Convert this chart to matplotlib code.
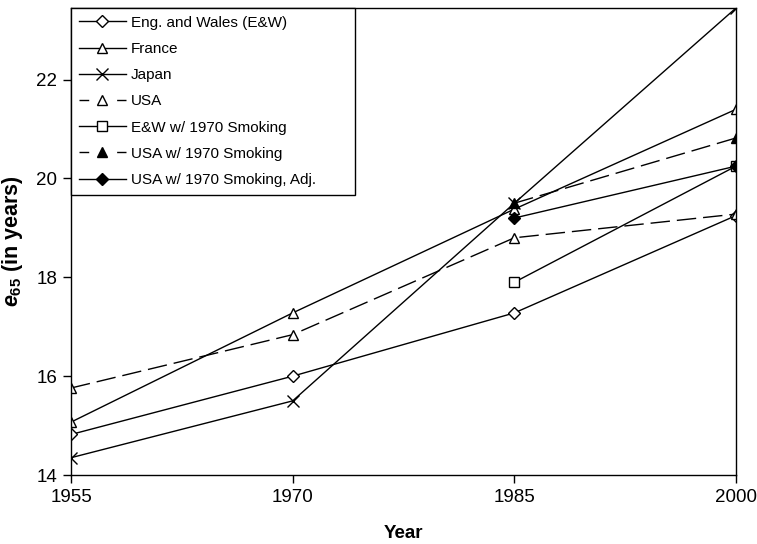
import matplotlib
matplotlib.use("Agg")
import matplotlib.pyplot as plt

plt.rcParams['font.family'] = ['Liberation Sans', 'DejaVu Sans']
plt.rcParams['mathtext.fontset'] = 'custom'
plt.rcParams['mathtext.it'] = 'Liberation Sans:bold:italic'
plt.rcParams['mathtext.bf'] = 'Liberation Sans:bold'
plt.rcParams['mathtext.rm'] = 'Liberation Sans'

years = [1955, 1970, 1985, 2000]
ew = [14.82, 16.0, 17.28, 19.25]
france = [15.07, 17.28, 19.38, 21.4]
japan = [14.35, 15.5, 19.5, 23.45]
usa = [15.76, 16.84, 18.8, 19.28]
ew_smoke_years = [1985, 2000]
ew_smoke = [17.9, 20.25]
usa_smoke_years = [1985, 2000]
usa_smoke = [19.5, 20.82]
usa_smoke_adj_years = [1985, 2000]
usa_smoke_adj = [19.2, 20.25]

fig = plt.figure(figsize=(7.57, 5.44), dpi=100)
ax = fig.add_axes([71/757, 1-475/544, (736-71)/757, (475-8)/544])

dash = (0, (14, 5))
base = dict(color='black', linewidth=1.0, markeredgewidth=1.0)
ax.plot(years, ew, marker='D', markerfacecolor='white', markersize=6, linestyle='-',
        label='Eng. and Wales (E&W)', **base)
ax.plot(years, france, marker='^', markerfacecolor='white', markersize=7, linestyle='-',
        label='France', **base)
ax.plot(years, japan, marker='x', markersize=9, linestyle='-', label='Japan', **base)
ax.plot(years, usa, marker='^', markerfacecolor='white', markersize=7, linestyle=dash,
        label='USA', **base)
ax.plot(ew_smoke_years, ew_smoke, marker='s', markerfacecolor='white', markersize=7,
        linestyle='-', label='E&W w/ 1970 Smoking', **base)
ax.plot(usa_smoke_years, usa_smoke, marker='^', markerfacecolor='black', markersize=7,
        linestyle=dash, label='USA w/ 1970 Smoking', **base)
ax.plot(usa_smoke_adj_years, usa_smoke_adj, marker='D', markerfacecolor='black', markersize=6,
        linestyle='-', label='USA w/ 1970 Smoking, Adj.', **base)

ax.set_xlim(1955, 2000)
ax.set_ylim(14, 23.45)
ax.set_xticks([1955, 1970, 1985, 2000])
ax.set_yticks([14, 16, 18, 20, 22])
ax.tick_params(axis='both', labelsize=13.5, direction='out', length=6, width=1.0, pad=4,
               colors='black')
for s in ax.spines.values():
    s.set_linewidth(1.0)
    s.set_color('black')

ax.set_xlabel('Year', fontsize=13.5, fontweight='bold', labelpad=14)
ax.set_ylabel(r'$\mathit{e}_{\mathbf{65}}$' + ' (in years)', fontsize=15.5,
              fontweight='bold', labelpad=8)

fs = 11
hl = 3.1
leg = ax.legend(loc='upper left', bbox_to_anchor=(0, 0, (355-71)/665, 1), mode='expand',
                borderaxespad=0, fontsize=fs, frameon=True, fancybox=False,
                edgecolor='black', handlelength=hl, handletextpad=0.3, labelspacing=0.8,
                borderpad=0.5)
leg.get_frame().set_linewidth(1.0)
leg.get_frame().set_alpha(1)

# short dashes around the marker in legend for the dashed series
total = hl * fs
for idx in (3, 5):
    ln = leg.get_lines()[idx]
    ln.set_dashes((7, total - 14))

fig.savefig('out.png', dpi=100)
